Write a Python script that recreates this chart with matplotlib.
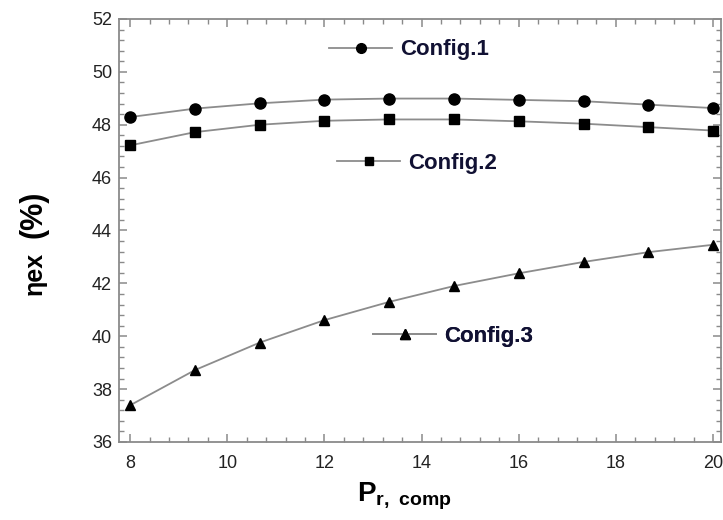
import matplotlib
matplotlib.use('Agg')
import matplotlib.pyplot as plt
from matplotlib.lines import Line2D
from matplotlib.ticker import MultipleLocator

plt.rcParams['font.family'] = ['Liberation Sans', 'DejaVu Sans']
plt.rcParams['mathtext.fontset'] = 'custom'
plt.rcParams['mathtext.rm'] = 'Liberation Sans'
plt.rcParams['mathtext.bf'] = 'Liberation Sans:bold'

# pressure ratio of the compressor
pr_comp = [8, 9.333, 10.667, 12, 13.333, 14.667, 16, 17.333, 18.667, 20]

# exergy efficiency (%)
eta_cfg1 = [48.29, 48.61, 48.81, 48.95, 48.99, 48.99, 48.94, 48.89, 48.76, 48.63]
eta_cfg2 = [47.22, 47.72, 48.00, 48.15, 48.20, 48.20, 48.13, 48.04, 47.91, 47.78]
eta_cfg3 = [37.39, 38.72, 39.76, 40.61, 41.30, 41.90, 42.38, 42.81, 43.18, 43.46]

labels = ['Config.1', 'Config.2', 'Config.3']
markers = ['o', 's', '^']
msizes = [8, 6.5, 7.5]
# where each little legend sits (axes fraction, left edge / centre)
leg_pos = [(0.349, 0.927), (0.362, 0.659), (0.422, 0.250)]

line_col = '#8c8c8c'
axis_col = '#8a8a8a'

fig = plt.figure(figsize=(7.23, 5.2), dpi=100)
ax = fig.add_axes([0.1646, 0.15, 0.8324, 0.8135])

series = [eta_cfg1, eta_cfg2, eta_cfg3]
for ys, mk, ms in zip(series, markers, msizes):
    ax.plot(pr_comp, ys, color=line_col, lw=1.3, marker=mk, ms=ms,
            mfc='black', mec='black', zorder=3)

ax.set_xlim(7.77, 20.16)
ax.set_ylim(36, 52)
ax.xaxis.set_major_locator(MultipleLocator(2))
ax.xaxis.set_minor_locator(MultipleLocator(0.4))
ax.yaxis.set_major_locator(MultipleLocator(2))
ax.yaxis.set_minor_locator(MultipleLocator(0.4))

ax.tick_params(which='both', direction='in', top=True, right=True,
               color=axis_col, labelcolor='#222222', labelsize=13)
ax.tick_params(which='major', length=6, width=1.1)
ax.tick_params(which='minor', length=3.5, width=1.0)
ax.tick_params(axis='x', pad=9)
ax.tick_params(axis='y', pad=5)
for sp in ax.spines.values():
    sp.set_color(axis_col)
    sp.set_linewidth(1.3)

# one small legend per curve, placed inside the plot like the original
for lab, mk, ms, pos in zip(labels, markers, msizes, leg_pos):
    h = Line2D([], [], color=line_col, lw=1.3, marker=mk, ms=ms - 1,
               mfc='black', mec='black')
    leg = ax.legend([h], [lab], loc='center left', bbox_to_anchor=pos,
                    frameon=False, borderpad=0, borderaxespad=0,
                    handlelength=2.85, handletextpad=0.35,
                    prop={'size': 16, 'weight': 'bold'})
    for t in leg.get_texts():
        t.set_color('#111133')
    ax.add_artist(leg)

# y label: smaller "ηex" followed by a larger "(%)", as in the original
fig.text(0.058, 0.433, 'ηex', rotation=90, rotation_mode='anchor',
         ha='left', va='baseline', fontsize=18, fontweight='bold')
fig.text(0.058, 0.542, '(%)', rotation=90, rotation_mode='anchor',
         ha='left', va='baseline', fontsize=22, fontweight='bold')

ax.set_xlabel(r'$\mathbf{P}_{\mathbf{r,\ comp}}$', fontsize=20, labelpad=4)
ax.xaxis.set_label_coords(0.475, -0.09)

fig.savefig('out.png', dpi=100)
